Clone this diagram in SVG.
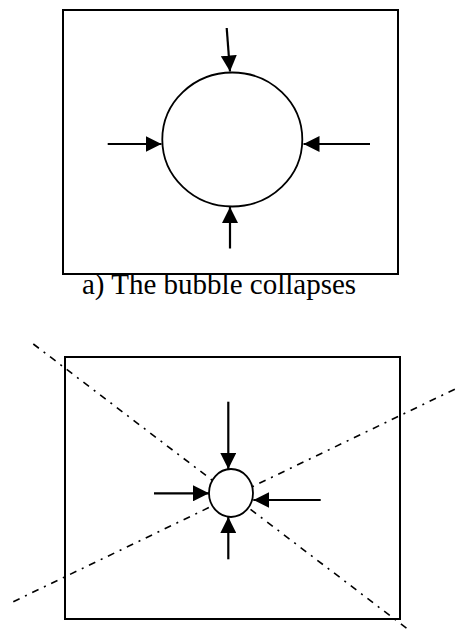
<svg xmlns="http://www.w3.org/2000/svg" width="458" height="630" viewBox="0 0 458 630">
  <style>
    .box { fill: none; stroke: #000; stroke-width: 2; }
    .bub { fill: #fff; stroke: #000; stroke-width: 1.8; }
    .arr { fill: none; stroke: #000; stroke-width: 2.2; marker-end: url(#ah); }
    .axis { fill: none; stroke: #000; stroke-width: 1.6; stroke-dasharray: 7 6 2 6; }
    .cap { font-family: "Liberation Serif", "Times New Roman", serif; font-size: 29px; fill: #000; }
  </style>
  <defs>
    <marker id="ah" markerUnits="userSpaceOnUse" markerWidth="16" markerHeight="16" viewBox="0 0 15 15" refX="15" refY="7.5" orient="auto">
      <path d="M0,0 L15,7.5 L0,15 Z" fill="#000"/>
    </marker>
  </defs>

  <g id="panel-a">
    <rect id="box-a" class="box" x="63" y="10" width="335" height="264"/>
    <ellipse id="bubble-a" class="bub" cx="232.3" cy="139.5" rx="70" ry="67"/>
  </g>
  <g id="caption-a">
    <text class="cap" x="82" y="294">a) The bubble collapses</text>
  </g>

  <g id="panel-b">
    <rect id="box-b" class="box" x="65" y="357" width="335" height="262"/>
  </g>
  <g id="axes">
    <line class="axis" x1="33.3" y1="344" x2="406.7" y2="628.3"/>
    <line class="axis" x1="13.3" y1="601.7" x2="456.7" y2="388.3"/>
  </g>
  <g id="panel-b-bubble">
    <ellipse id="bubble-b" class="bub" cx="231" cy="493" rx="22" ry="24"/>
  </g>

  <g id="connectors">
    <line class="arr" x1="226.7" y1="28" x2="230" y2="71.5"/>
    <line class="arr" x1="107.7" y1="144" x2="161.5" y2="144"/>
    <line class="arr" x1="370" y1="144" x2="303.5" y2="144"/>
    <line class="arr" x1="230" y1="248.5" x2="230" y2="207"/>
    <line class="arr" x1="228.3" y1="401.7" x2="228.3" y2="469"/>
    <line class="arr" x1="154" y1="493.3" x2="209" y2="493.3"/>
    <line class="arr" x1="320.7" y1="500" x2="253.3" y2="500"/>
    <line class="arr" x1="228.3" y1="559.3" x2="228.3" y2="517"/>
  </g>
</svg>
